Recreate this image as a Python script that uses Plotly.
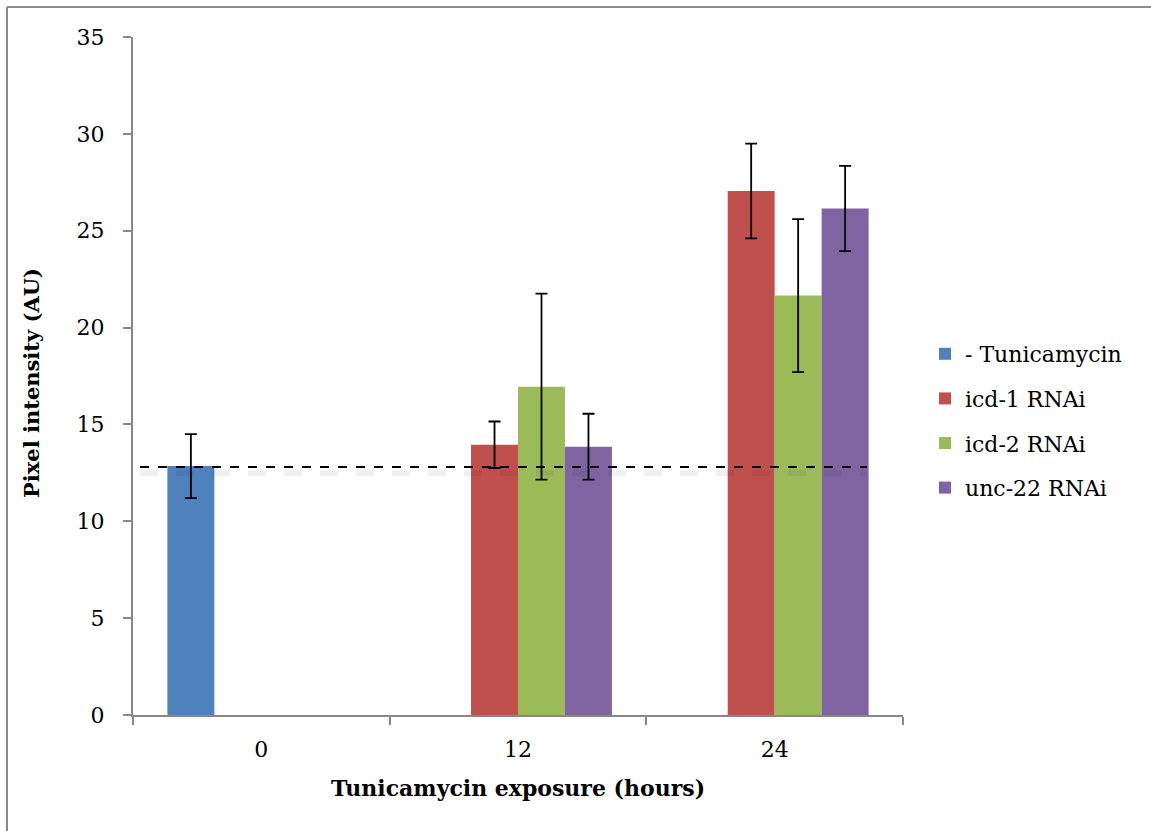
import plotly.graph_objects as go

# Tunicamycin exposure time points (hours)
hours = ["0", "12", "24"]

# Mean pixel intensity (AU) per condition; None where a condition was not measured
no_tunicamycin = [12.85, None, None]
icd1_rnai = [None, 13.95, 27.05]
icd2_rnai = [None, 16.95, 21.65]
unc22_rnai = [None, 13.85, 26.15]

# Error bar half-lengths
no_tunicamycin_err = [1.65, 0, 0]
icd1_rnai_err = [0, 1.2, 2.45]
icd2_rnai_err = [0, 4.8, 3.95]
unc22_rnai_err = [0, 1.7, 2.2]

# Baseline intensity of untreated worms
baseline = 12.8

series_names = ["- Tunicamycin", "icd-1 RNAi", "icd-2 RNAi", "unc-22 RNAi"]
series_values = [no_tunicamycin, icd1_rnai, icd2_rnai, unc22_rnai]
series_errors = [no_tunicamycin_err, icd1_rnai_err, icd2_rnai_err, unc22_rnai_err]
colors = ["#4F81BD", "#C0504D", "#9BBB59", "#8064A2"]

FONT = "DejaVu Serif"
W, H = 1151, 831
L, R, T, B = 133, 248, 37, 116
PW, PH = W - L - R, H - T - B


def px_x(px):
    return (px - L) / PW


def px_y(py):
    return (H - B - py) / PH


fig = go.Figure()
for i, (name, vals, errs, col) in enumerate(zip(series_names, series_values, series_errors, colors)):
    fig.add_trace(go.Bar(
        x=hours, y=vals, name=name,
        marker=dict(color=col, line=dict(width=0)),
        error_y=dict(type="data", array=errs, visible=True, color="black", thickness=1.8, width=6),
        legendgroup=f"g{i}",
    ))

# Dashed baseline with a soft shadow beneath
fig.add_shape(type="line", xref="paper", yref="y", x0=px_x(140), x1=px_x(867),
              y0=baseline - 0.32, y1=baseline - 0.32,
              line=dict(color="rgba(0,0,0,0.06)", width=6, dash="dash"), layer="above")
fig.add_shape(type="line", xref="paper", yref="y", x0=px_x(140), x1=px_x(867),
              y0=baseline, y1=baseline,
              line=dict(color="black", width=2, dash="dash"), layer="above")

# Outer frame (top and left edges)
fig.add_shape(type="line", xref="paper", yref="paper", x0=px_x(7), x1=px_x(7),
              y0=px_y(7), y1=px_y(840), line=dict(color="#8c8c8c", width=2))
fig.add_shape(type="line", xref="paper", yref="paper", x0=px_x(7), x1=px_x(1160),
              y0=px_y(7), y1=px_y(7), line=dict(color="#8c8c8c", width=2))

# Axis titles
fig.add_annotation(text="<b>Tunicamycin exposure (hours)</b>", xref="paper", yref="paper",
                   x=px_x(518), y=px_y(788), xanchor="center", yanchor="middle", showarrow=False,
                   font=dict(family=FONT, size=22, color="black"))
fig.add_annotation(text="<b>Pixel intensity (AU)</b>", xref="paper", yref="paper",
                   x=px_x(31), y=px_y(383), xanchor="center", yanchor="middle", showarrow=False,
                   textangle=-90, font=dict(family=FONT, size=21, color="black"))

fig.update_layout(
    width=W, height=H,
    margin=dict(l=L, r=R, t=T, b=B),
    paper_bgcolor="white", plot_bgcolor="white",
    barmode="group", bargap=0.268, bargroupgap=0,
    font=dict(family=FONT, size=22, color="black"),
    legend=dict(x=px_x(925), y=px_y(333), xanchor="left", yanchor="top",
                traceorder="grouped", tracegroupgap=13,
                font=dict(family=FONT, size=22, color="black"),
                bgcolor="rgba(0,0,0,0)"),
    xaxis=dict(
        type="category", showline=True, linecolor="#888888", linewidth=2,
        ticks="outside", tickson="boundaries", ticklen=8, tickcolor="#888888", tickwidth=2,
        showgrid=False, zeroline=False, ticklabelstandoff=14,
        tickfont=dict(family=FONT, size=22, color="black"),
    ),
    yaxis=dict(
        range=[0, 35], dtick=5, showline=True, linecolor="#888888", linewidth=2,
        ticks="outside", ticklen=8, tickcolor="#888888", tickwidth=2,
        showgrid=False, zeroline=False, ticklabelstandoff=14,
        tickfont=dict(family=FONT, size=22, color="black"),
    ),
)

fig.write_html("out.html")
